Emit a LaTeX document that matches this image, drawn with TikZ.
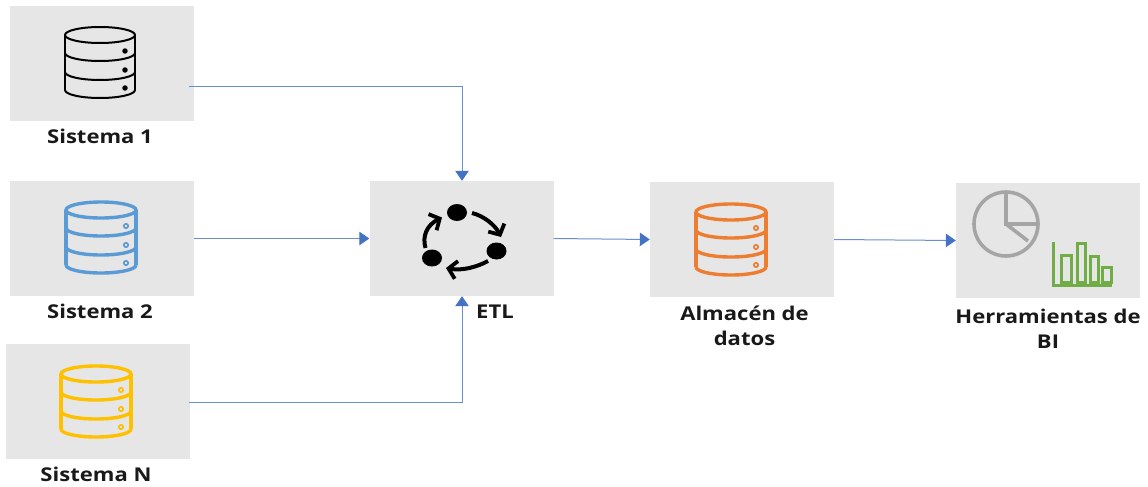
\documentclass[tikz,border=0pt]{standalone}
\usepackage{fontspec}
\setmainfont[FakeStretch=1.16]{Open Sans}
\usetikzlibrary{arrows.meta}
\definecolor{panel}{HTML}{E6E6E6}
\definecolor{flow}{HTML}{4472C4}
\definecolor{flowsoft}{HTML}{6A8FD0}
\definecolor{dbblue}{HTML}{5B9BD5}
\definecolor{dbgold}{HTML}{FFC000}
\definecolor{dborange}{HTML}{ED7D31}
\definecolor{piegray}{HTML}{A5A5A5}
\definecolor{bargreen}{HTML}{70AD47}
\tikzset{
  panelbox/.style={fill=panel,draw=none,minimum width=184pt,minimum height=115pt,inner sep=0pt},
  lbl/.style={font=\bfseries\fontsize{19pt}{24.5pt}\selectfont,text=black!90,inner sep=0pt,align=center},
  flowline/.style={draw=flowsoft,line width=1pt,-{Triangle[length=10pt,width=13.5pt,color=flow]}},
  cyclearrow/.style={line width=4pt,draw=black,-{Straight Barb[length=8pt,width=18pt,line width=3.8pt]}},
}
% centre x, top y, colour, line width, dot style
\newcommand\dbicon[5]{%
  \begin{scope}[shift={(#1,#2)},draw=#3,line width=#4]
    \draw (0,8) ellipse[x radius=35pt,y radius=8pt];
    \draw (-35,8) -- (-35,63) (35,8) -- (35,63);
    \foreach \yy in {26,45,63}{\draw (-35,\yy) arc[start angle=180,end angle=360,x radius=35pt,y radius=8pt];}
    \foreach \yy in {24,43,61}{\draw[#5] (25,\yy) circle[radius=2.2pt];}
  \end{scope}}
\begin{document}
\begin{tikzpicture}[x=1pt,y=-1pt]
\useasboundingbox (0,0) rectangle (1148,487);
\node[panelbox] (s1) at (102,63.5) {};
\node[panelbox] (s2) at (102,238.5) {};
\node[panelbox] (sn) at (98,401.5) {};
\node[panelbox] (etl) at (461.5,238.5) {};
\node[panelbox] (alm) at (742,239.5) {};
\node[panelbox] (bi) at (1048,240.5) {};

\dbicon{100}{27}{black}{2pt}{fill=black,line width=1pt}
\dbicon{101}{202}{dbblue}{3.4pt}{line width=1.6pt}
\dbicon{96}{366}{dbgold}{3.4pt}{line width=1.6pt}
\dbicon{731}{204}{dborange}{3.4pt}{line width=1.6pt}

% ETL cycle icon
\fill (457,212.5) ellipse[x radius=10pt,y radius=8.5pt];
\fill (496.5,251) ellipse[x radius=10pt,y radius=8.5pt];
\fill (432,258) ellipse[x radius=10pt,y radius=8.5pt];
\draw[cyclearrow] (472,213) .. controls (484,216) and (495,225) .. (501,237);
\draw[cyclearrow] (488,261) .. controls (477,267) and (462,271) .. (446,268);
\draw[cyclearrow] (425.5,248) .. controls (422,236) and (427,225) .. (442,217.5);

% pie icon
\begin{scope}[draw=piegray,line width=3.6pt]
  \draw (1006,224) circle[radius=32pt];
  \draw (1006,192) -- (1006,224) -- (1038,224);
  \draw (1006,224) -- (1028,241);
\end{scope}
% bar icon
\begin{scope}[draw=bargreen,line width=3pt]
  \draw (1053.5,242) -- (1053.5,285) -- (1112,285);
  \draw (1061,255.5) rectangle (1071,282);
  \draw (1077.5,243) rectangle (1085.5,282);
  \draw (1090,256) rectangle (1098,282);
  \draw (1102.5,267.5) rectangle (1111,282);
\end{scope}

\draw[flowline] ([shift={(-5,22.5)}]s1.east) -| ([xshift=0.5]etl.north);
\draw[flowline] (s2.east) -- (etl.west);
\draw[flowline] ([shift={(-1,0.5)}]sn.east) -| ([xshift=0.5]etl.south);
\draw[flowline] (etl.east) -- (alm.west);
\draw[flowline] (alm.east) -- (bi.west);

\node[lbl] (t1) at (100,136) {Sistema 1};
\node[lbl] (t2) at (100,311) {Sistema 2};
\node[lbl] (t3) at (96,474) {Sistema N};
\node[lbl] (t4) at (495,312) {ETL};
\node[lbl] (t5) at (744.5,326) {Almacén de\\datos};
\node[lbl] (t6) at (1048,329) {Herramientas de\\BI};
\end{tikzpicture}
\end{document}
